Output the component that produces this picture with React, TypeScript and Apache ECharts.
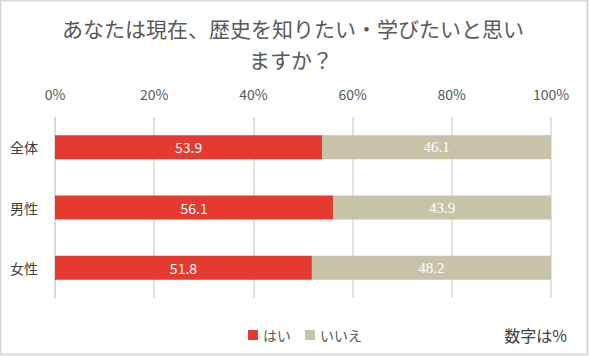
import React, { useEffect, useRef } from "react";
import * as echarts from "echarts";

const titleLines = ["あなたは現在、歴史を知りたい・学びたいと思い", "ますか？"];
const categories = ["全体", "男性", "女性"];
const yesValues = [53.9, 56.1, 51.8];
const noValues = [46.1, 43.9, 48.2];
const seriesNames = ["はい", "いいえ"];
const noteText = "数字は%";

const FONT = "'Noto Sans CJK JP', 'Noto Sans', sans-serif";

export default function App() {
  const ref = useRef<HTMLDivElement>(null);
  useEffect(() => {
    if (!ref.current) return;
    const chart = echarts.init(ref.current, null, { renderer: "svg" });
    chart.setOption({
      animation: false,
      backgroundColor: "#ffffff",
      textStyle: { fontFamily: FONT },
      grid: { left: 55, right: 38, top: 117, bottom: 58, containLabel: false },
      xAxis: {
        type: "value",
        position: "top",
        min: 0,
        max: 100,
        interval: 20,
        axisLabel: {
          formatter: "{value}%",
          color: "#595959",
          fontSize: 14,
          margin: 16,
          fontFamily: FONT,
        },
        axisLine: { show: false },
        axisTick: { show: false },
        splitLine: { show: true, lineStyle: { color: "#d9d9d9", width: 1.5 } },
      },
      yAxis: {
        type: "category",
        data: categories,
        inverse: true,
        axisLine: { show: true, lineStyle: { color: "#d9d9d9", width: 1.5 } },
        axisTick: { show: false },
        axisLabel: { color: "#404040", fontSize: 14, margin: 17, fontFamily: FONT },
      },
      legend: {
        data: seriesNames,
        left: 243,
        top: 323,
        itemWidth: 10,
        itemHeight: 10,
        itemGap: 14,
        icon: "rect",
        textStyle: { color: "#595959", fontSize: 14, fontFamily: FONT },
      },
      series: [
        {
          name: seriesNames[0],
          type: "bar",
          stack: "total",
          barWidth: 24,
          data: yesValues,
          itemStyle: { color: "#e53a30" },
          label: {
            show: true,
            position: "inside",
            color: "#ffffff",
            fontSize: 14,
            fontFamily: FONT,
            formatter: (p: any) => p.value.toFixed(1),
          },
        },
        {
          name: seriesNames[1],
          type: "bar",
          stack: "total",
          barWidth: 24,
          data: noValues,
          itemStyle: { color: "#c6c3a9" },
          label: {
            show: true,
            position: "inside",
            color: "#ffffff",
            fontSize: 15,
            fontFamily: "'Liberation Serif', serif",
            formatter: (p: any) => p.value.toFixed(1),
          },
        },
      ],
      graphic: [
        {
          type: "rect",
          shape: { x: 0.5, y: 0.5, width: 587, height: 354 },
          style: { fill: "none", stroke: "#d9d9d9", lineWidth: 2 },
          silent: true,
        },
        {
          type: "text",
          x: 293,
          y: 28,
          style: {
            text: titleLines[0],
            fill: "#595959",
            fontSize: 21,
            fontFamily: FONT,
            textAlign: "center",
            textVerticalAlign: "middle",
          },
        },
        {
          type: "text",
          x: 291,
          y: 59,
          style: {
            text: titleLines[1],
            fill: "#595959",
            fontSize: 21,
            fontFamily: FONT,
            textAlign: "center",
            textVerticalAlign: "middle",
          },
        },
        {
          type: "text",
          x: 567,
          y: 335,
          style: {
            text: noteText,
            fill: "#404040",
            fontSize: 16,
            fontFamily: FONT,
            textAlign: "right",
            textVerticalAlign: "middle",
          },
        },
      ],
    });
    return () => chart.dispose();
  }, []);
  return (
    <div
      ref={ref}
      style={{ position: "fixed", left: 0, top: 0, width: 589, height: 356 }}
    />
  );
}
